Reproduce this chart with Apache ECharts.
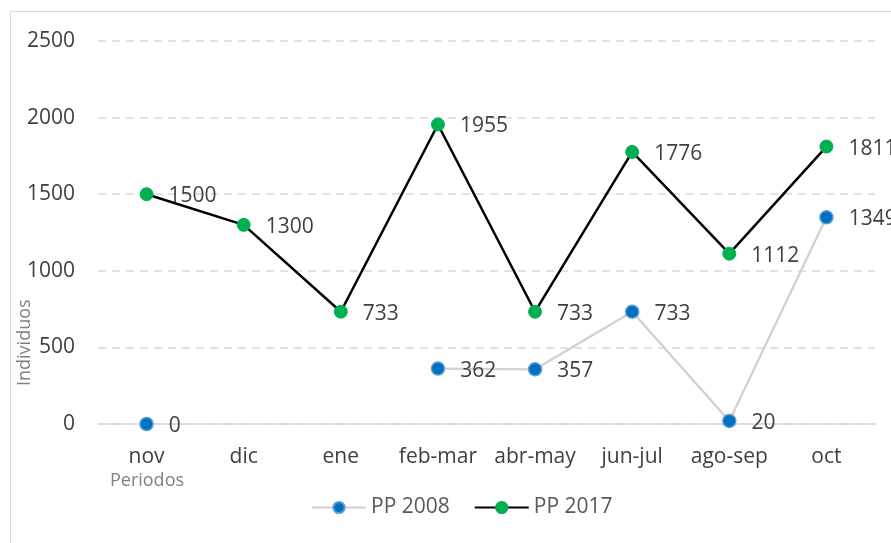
<!DOCTYPE html>
<html>
<head>
<meta charset="utf-8">
<script src="https://cdn.jsdelivr.net/npm/echarts@6/dist/echarts.min.js"></script>
<style>
  html, body { margin: 0; padding: 0; background: #fff; }
</style>
</head>
<body>
<div id="chart" style="width: 891px; height: 543px;"></div>
<script>
// datos del gráfico
const periodos = ['nov', 'dic', 'ene', 'feb-mar', 'abr-may', 'jun-jul', 'ago-sep', 'oct'];
const pp2008 = [0, null, null, 362, 357, 733, 20, 1349];
const pp2017 = [1500, 1300, 733, 1955, 733, 1776, 1112, 1811];
const yTicks = [0, 500, 1000, 1500, 2000, 2500];

const font = '"Open Sans", "Liberation Sans", sans-serif';
const myChart = echarts.init(document.getElementById('chart'));

const labelStyle = {
	show: true,
	position: 'right',
	distance: 15,
	color: '#404040',
	fontSize: 21,
	fontFamily: font,
	offset: [0, 2]
};

const option = {
	animation: false,
	grid: {
		left: 98,
		right: 16,
		top: 41,
		bottom: 119
	},
	graphic: [
		{
			type: 'rect',
			shape: { x: 10.5, y: 11.5, width: 900, height: 600 },
			style: { fill: 'none', stroke: '#d9d9d9', lineWidth: 1 },
			silent: true
		},
		{
			type: 'text',
			rotation: Math.PI / 2,
			x: 16,
			y: 386,
			style: {
				text: 'Individuos',
				fill: '#808080',
				font: '18px ' + font
			}
		},
		{
			type: 'text',
			x: 147,
			y: 481,
			style: {
				text: 'Periodos',
				fill: '#808080',
				font: '18px ' + font,
				align: 'center',
				verticalAlign: 'middle'
			}
		}
	],
	legend: {
		bottom: 25,
		left: 311,
		padding: 0,
		itemWidth: 54,
		itemHeight: 14,
		itemGap: 24,
		textStyle: { color: '#595959', fontSize: 21, fontFamily: font },
		data: ['PP 2008', 'PP 2017']
	},
	xAxis: {
		type: 'category',
		data: periodos,
		boundaryGap: true,
		axisLine: { lineStyle: { color: '#d9d9d9', width: 1.5 } },
		axisTick: { show: false },
		axisLabel: { color: '#404040', fontSize: 21, fontFamily: font, margin: 23, interval: 0 }
	},
	yAxis: {
		type: 'value',
		min: yTicks[0],
		max: yTicks[yTicks.length - 1],
		interval: 500,
		axisLine: { show: false },
		axisTick: { show: false },
		axisLabel: {
			color: '#404040',
			fontSize: 21,
			fontFamily: font,
			margin: 23,
			formatter: (v) => String(v)
		},
		splitLine: { lineStyle: { color: '#d9d9d9', type: [8, 6], width: 1.5 } }
	},
	series: [
		{
			name: 'PP 2008',
			type: 'line',
			data: pp2008,
			connectNulls: false,
			symbol: 'circle',
			symbolSize: 13,
			lineStyle: { color: '#d0d0d0', width: 2.25 },
			itemStyle: { color: '#0070c0', borderColor: '#5b9bd5', borderWidth: 1.5 },
			label: labelStyle,
			z: 2
		},
		{
			name: 'PP 2017',
			type: 'line',
			data: pp2017,
			symbol: 'circle',
			symbolSize: 13,
			lineStyle: { color: '#000000', width: 2.5 },
			itemStyle: { color: '#00b050', borderColor: '#00b050', borderWidth: 1 },
			label: labelStyle,
			z: 3
		}
	]
};

myChart.setOption(option);
</script>
</body>
</html>
